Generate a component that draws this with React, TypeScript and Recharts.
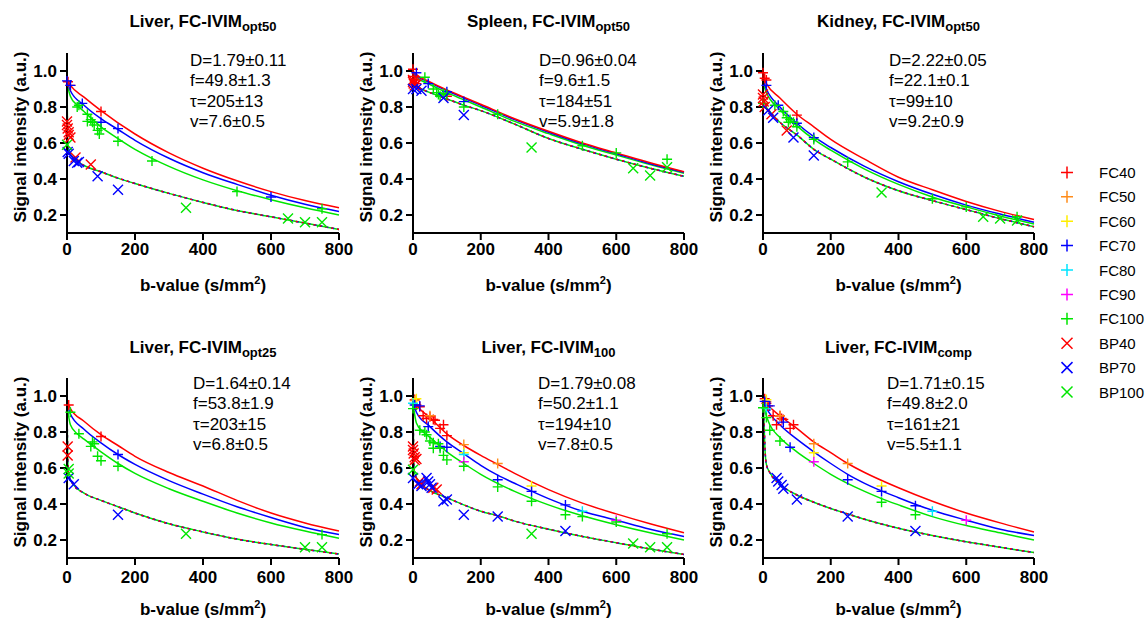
import React from 'react';
import { ComposedChart, Line, Scatter, XAxis, YAxis } from 'recharts';

type P = [number, number];
type SP = [string, number, number];

const FONT = '"Liberation Sans", Arial, Helvetica, sans-serif';

// ---------- axes / legend ----------
const B_TICKS = [0, 200, 400, 600, 800];
const SI_TICKS = [0.2, 0.4, 0.6, 0.8, 1.0];
const LEGEND_SERIES = ['FC40', 'FC50', 'FC60', 'FC70', 'FC80', 'FC90', 'FC100', 'BP40', 'BP70', 'BP100'];
const SERIES_COLORS: Record<string, string> = {
  FC40: '#ff0000', FC50: '#ff8c1a', FC60: '#ffee00', FC70: '#0000ff', FC80: '#00e5ff',
  FC90: '#ff00ff', FC100: '#00e600', BP40: '#ff0000', BP70: '#0000ff', BP100: '#00e600',
};

// ---------- panel texts ----------
const TITLES = ['Liver, FC-IVIM', 'Spleen, FC-IVIM', 'Kidney, FC-IVIM', 'Liver, FC-IVIM', 'Liver, FC-IVIM', 'Liver, FC-IVIM'];
const TITLE_SUBS = ['opt50', 'opt50', 'opt50', 'opt25', '100', 'comp'];
const STATS = [
  ['D=1.79±0.11', 'f=49.8±1.3', 'τ=205±13', 'v=7.6±0.5'],
  ['D=0.96±0.04', 'f=9.6±1.5', 'τ=184±51', 'v=5.9±1.8'],
  ['D=2.22±0.05', 'f=22.1±0.1', 'τ=99±10', 'v=9.2±0.9'],
  ['D=1.64±0.14', 'f=53.8±1.9', 'τ=203±15', 'v=6.8±0.5'],
  ['D=1.79±0.08', 'f=50.2±1.1', 'τ=194±10', 'v=7.8±0.5'],
  ['D=1.71±0.15', 'f=49.8±2.0', 'τ=161±21', 'v=5.5±1.1'],
];
const X_TITLE = 'b-value (s/mm';
const Y_TITLE = 'Signal intensity (a.u.)';

// ---------- fitted curves ----------
const FIT1_FC40: P[] = [[0, 0.95], [10, 0.92], [50, 0.855], [100, 0.78], [200, 0.65], [300, 0.545], [400, 0.46], [500, 0.39], [600, 0.33], [700, 0.28], [800, 0.24]];
const FIT1_FC70: P[] = [[0, 0.945], [10, 0.89], [50, 0.81], [100, 0.735], [150, 0.675], [200, 0.615], [300, 0.515], [400, 0.435], [500, 0.37], [600, 0.31], [700, 0.26], [800, 0.22]];
const FIT1_FC100: P[] = [[0, 0.93], [10, 0.86], [30, 0.81], [50, 0.775], [100, 0.69], [150, 0.625], [200, 0.565], [250, 0.515], [300, 0.47], [400, 0.395], [500, 0.335], [600, 0.285], [700, 0.24], [800, 0.2]];
const FIT1_BP: P[] = [[0, 0.95], [2, 0.6], [5, 0.56], [10, 0.54], [20, 0.515], [50, 0.475], [100, 0.44], [150, 0.405], [200, 0.375], [300, 0.32], [400, 0.27], [500, 0.225], [600, 0.19], [700, 0.155], [800, 0.12]];

const FIT2_FC40: P[] = [[0, 1.0], [10, 0.98], [50, 0.94], [100, 0.895], [150, 0.855], [200, 0.815], [300, 0.735], [400, 0.665], [500, 0.6], [600, 0.545], [700, 0.49], [800, 0.44]];
const FIT2_FC70: P[] = [[0, 0.995], [10, 0.975], [50, 0.935], [100, 0.89], [150, 0.85], [200, 0.81], [300, 0.73], [400, 0.66], [500, 0.595], [600, 0.54], [700, 0.485], [800, 0.437]];
const FIT2_FC100: P[] = [[0, 0.985], [10, 0.965], [50, 0.925], [100, 0.88], [150, 0.84], [200, 0.8], [300, 0.72], [400, 0.652], [500, 0.588], [600, 0.533], [700, 0.48], [800, 0.432]];
const FIT2_BP: P[] = [[0, 0.96], [5, 0.925], [20, 0.905], [50, 0.88], [100, 0.845], [150, 0.81], [200, 0.78], [300, 0.705], [400, 0.625], [500, 0.565], [600, 0.51], [700, 0.46], [800, 0.415]];

const FIT3_FC40: P[] = [[0, 0.97], [10, 0.93], [50, 0.85], [100, 0.76], [150, 0.69], [200, 0.62], [300, 0.51], [400, 0.41], [500, 0.34], [600, 0.275], [700, 0.22], [800, 0.175]];
const FIT3_FC70: P[] = [[0, 0.95], [10, 0.9], [50, 0.8], [100, 0.71], [150, 0.635], [200, 0.575], [300, 0.47], [400, 0.385], [500, 0.315], [600, 0.255], [700, 0.205], [800, 0.16]];
const FIT3_FC100: P[] = [[0, 0.93], [10, 0.88], [50, 0.785], [100, 0.695], [150, 0.62], [200, 0.56], [300, 0.455], [400, 0.37], [500, 0.3], [600, 0.245], [700, 0.195], [800, 0.15]];
const FIT3_BP: P[] = [[0, 0.88], [5, 0.82], [20, 0.775], [50, 0.715], [100, 0.645], [150, 0.565], [200, 0.51], [300, 0.41], [400, 0.335], [500, 0.28], [600, 0.23], [700, 0.18], [800, 0.135]];

const FIT4_FC40: P[] = [[0, 0.97], [10, 0.93], [50, 0.86], [100, 0.785], [150, 0.725], [200, 0.665], [300, 0.575], [400, 0.5], [500, 0.42], [600, 0.35], [700, 0.295], [800, 0.25]];
const FIT4_FC70: P[] = [[0, 0.96], [10, 0.9], [50, 0.815], [100, 0.74], [150, 0.675], [200, 0.62], [300, 0.53], [400, 0.455], [500, 0.385], [600, 0.325], [700, 0.27], [800, 0.23]];
const FIT4_FC100: P[] = [[0, 0.95], [10, 0.84], [30, 0.79], [50, 0.76], [100, 0.69], [150, 0.625], [200, 0.57], [300, 0.485], [400, 0.415], [500, 0.35], [600, 0.295], [700, 0.25], [800, 0.21]];
const FIT4_BP: P[] = [[0, 0.95], [3, 0.6], [5, 0.56], [20, 0.505], [50, 0.46], [100, 0.42], [150, 0.385], [200, 0.35], [300, 0.29], [400, 0.245], [500, 0.205], [600, 0.175], [700, 0.148], [800, 0.122]];

const FIT5_FC40: P[] = [[0, 0.98], [10, 0.95], [50, 0.88], [100, 0.79], [150, 0.725], [200, 0.67], [250, 0.62], [300, 0.57], [400, 0.48], [500, 0.405], [600, 0.345], [700, 0.29], [800, 0.24]];
const FIT5_FC70: P[] = [[0, 0.97], [10, 0.91], [50, 0.83], [100, 0.745], [150, 0.68], [200, 0.615], [250, 0.56], [300, 0.515], [400, 0.43], [500, 0.36], [600, 0.31], [700, 0.26], [800, 0.22]];
const FIT5_FC100: P[] = [[0, 0.96], [10, 0.85], [30, 0.8], [50, 0.77], [100, 0.69], [150, 0.625], [200, 0.565], [300, 0.47], [400, 0.395], [500, 0.335], [600, 0.285], [700, 0.24], [800, 0.2]];
const FIT5_BP: P[] = [[0, 0.96], [3, 0.6], [5, 0.57], [20, 0.52], [50, 0.475], [100, 0.435], [150, 0.395], [200, 0.36], [250, 0.335], [300, 0.305], [400, 0.26], [500, 0.22], [600, 0.185], [700, 0.15], [800, 0.12]];

const FIT6_FC40: P[] = [[0, 0.99], [10, 0.96], [50, 0.89], [100, 0.82], [150, 0.745], [200, 0.685], [250, 0.625], [300, 0.575], [400, 0.49], [500, 0.415], [600, 0.35], [700, 0.295], [800, 0.245]];
const FIT6_FC70: P[] = [[0, 0.98], [10, 0.935], [50, 0.84], [100, 0.76], [150, 0.69], [200, 0.625], [250, 0.565], [300, 0.515], [400, 0.435], [500, 0.365], [600, 0.31], [700, 0.26], [800, 0.225]];
const FIT6_FC100: P[] = [[0, 0.96], [10, 0.89], [20, 0.84], [50, 0.77], [100, 0.69], [150, 0.625], [200, 0.565], [300, 0.47], [350, 0.43], [400, 0.395], [500, 0.33], [600, 0.28], [700, 0.24], [800, 0.2]];
const FIT6_BP: P[] = [[0, 0.98], [3, 0.85], [6, 0.7], [10, 0.62], [20, 0.575], [50, 0.51], [100, 0.45], [150, 0.41], [200, 0.375], [250, 0.345], [300, 0.315], [400, 0.265], [500, 0.225], [600, 0.19], [700, 0.16], [800, 0.13]];

// ---------- measured points (series, b, signal) ----------
const PTS1: SP[] = [
  ['FC40', 3, 0.94], ['FC40', 10, 0.92], ['FC40', 100, 0.775],
  ['FC70', 0, 0.945], ['FC70', 10, 0.92], ['FC70', 45, 0.82], ['FC70', 100, 0.715], ['FC70', 150, 0.68], ['FC70', 600, 0.3],
  ['FC100', 30, 0.8], ['FC100', 35, 0.81], ['FC100', 60, 0.76], ['FC100', 60, 0.72], ['FC100', 70, 0.73], ['FC100', 75, 0.715], ['FC100', 80, 0.7], ['FC100', 90, 0.67], ['FC100', 95, 0.65], ['FC100', 100, 0.68], ['FC100', 150, 0.61], ['FC100', 250, 0.5], ['FC100', 500, 0.33], ['FC100', 750, 0.235],
  ['BP40', 0, 0.72], ['BP40', 0, 0.7], ['BP40', 2, 0.68], ['BP40', 5, 0.66], ['BP40', 5, 0.645], ['BP40', 10, 0.63], ['BP40', 25, 0.52], ['BP40', 70, 0.48],
  ['BP70', 2, 0.55], ['BP70', 5, 0.54], ['BP70', 20, 0.5], ['BP70', 30, 0.49], ['BP70', 35, 0.495], ['BP70', 90, 0.415], ['BP70', 150, 0.34],
  ['BP100', 0, 0.59], ['BP100', 350, 0.24], ['BP100', 650, 0.18], ['BP100', 700, 0.16], ['BP100', 750, 0.16],
];
const PTS2: SP[] = [
  ['FC40', 0, 1.01], ['FC40', 0, 0.97], ['FC40', 5, 0.95], ['FC40', 10, 0.93], ['FC40', 100, 0.86],
  ['FC70', 10, 0.99], ['FC70', 45, 0.93], ['FC70', 100, 0.885], ['FC70', 150, 0.83],
  ['FC100', 35, 0.965], ['FC100', 60, 0.9], ['FC100', 70, 0.88], ['FC100', 75, 0.87], ['FC100', 80, 0.86], ['FC100', 90, 0.875], ['FC100', 100, 0.87], ['FC100', 150, 0.8], ['FC100', 250, 0.76], ['FC100', 500, 0.585], ['FC100', 600, 0.545], ['FC100', 750, 0.51],
  ['BP40', 0, 0.95], ['BP40', 0, 0.94], ['BP40', 2, 0.93], ['BP40', 5, 0.92], ['BP40', 10, 0.925],
  ['BP70', 0, 0.9], ['BP70', 10, 0.9], ['BP70', 25, 0.89], ['BP70', 90, 0.85], ['BP70', 150, 0.755],
  ['BP100', 350, 0.575], ['BP100', 650, 0.46], ['BP100', 700, 0.42], ['BP100', 750, 0.465],
];
const PTS3: SP[] = [
  ['FC40', 0, 0.99], ['FC40', 5, 0.96], ['FC40', 10, 0.95], ['FC40', 100, 0.755],
  ['FC70', 10, 0.92], ['FC70', 45, 0.81], ['FC70', 100, 0.71], ['FC70', 150, 0.63],
  ['FC100', 0, 0.82], ['FC100', 35, 0.81], ['FC100', 60, 0.775], ['FC100', 70, 0.74], ['FC100', 75, 0.715], ['FC100', 80, 0.73], ['FC100', 90, 0.715], ['FC100', 100, 0.69], ['FC100', 150, 0.62], ['FC100', 250, 0.495], ['FC100', 500, 0.29], ['FC100', 600, 0.245], ['FC100', 750, 0.19],
  ['BP40', 0, 0.87], ['BP40', 0, 0.85], ['BP40', 2, 0.83], ['BP40', 5, 0.8], ['BP40', 25, 0.76], ['BP40', 70, 0.67],
  ['BP70', 15, 0.78], ['BP70', 30, 0.74], ['BP70', 90, 0.63], ['BP70', 150, 0.53],
  ['BP100', 350, 0.325], ['BP100', 650, 0.19], ['BP100', 700, 0.18], ['BP100', 750, 0.17],
];
const PTS4: SP[] = [
  ['FC40', 5, 0.95], ['FC40', 100, 0.775],
  ['FC70', 150, 0.675],
  ['FC100', 10, 0.91], ['FC100', 35, 0.79], ['FC100', 70, 0.72], ['FC100', 75, 0.745], ['FC100', 80, 0.735], ['FC100', 90, 0.665], ['FC100', 100, 0.64], ['FC100', 150, 0.61], ['FC100', 750, 0.23],
  ['BP40', 2, 0.72], ['BP40', 2, 0.67],
  ['BP70', 5, 0.545], ['BP70', 20, 0.51], ['BP70', 150, 0.34],
  ['BP100', 5, 0.595], ['BP100', 5, 0.57], ['BP100', 350, 0.235], ['BP100', 700, 0.16], ['BP100', 750, 0.16],
];
const PTS5: SP[] = [
  ['FC40', 5, 0.98], ['FC40', 10, 0.95], ['FC40', 20, 0.94], ['FC40', 30, 0.89], ['FC40', 40, 0.875], ['FC40', 50, 0.885], ['FC40', 60, 0.87], ['FC40', 65, 0.865], ['FC40', 80, 0.82], ['FC40', 90, 0.84], ['FC40', 100, 0.78],
  ['FC50', 5, 0.975], ['FC50', 50, 0.89], ['FC50', 150, 0.73], ['FC50', 250, 0.625],
  ['FC60', 10, 0.985], ['FC60', 150, 0.685], ['FC60', 350, 0.5],
  ['FC70', 5, 0.95], ['FC70', 20, 0.945], ['FC70', 45, 0.83], ['FC70', 80, 0.72], ['FC70', 100, 0.715], ['FC70', 250, 0.535], ['FC70', 350, 0.47], ['FC70', 450, 0.395],
  ['FC80', 0, 0.96], ['FC80', 150, 0.675], ['FC80', 500, 0.36],
  ['FC90', 150, 0.635], ['FC90', 600, 0.31],
  ['FC100', 0, 0.93], ['FC100', 20, 0.81], ['FC100', 35, 0.8], ['FC100', 40, 0.785], ['FC100', 50, 0.75], ['FC100', 60, 0.74], ['FC100', 60, 0.71], ['FC100', 75, 0.735], ['FC100', 80, 0.71], ['FC100', 90, 0.67], ['FC100', 100, 0.645], ['FC100', 150, 0.61], ['FC100', 250, 0.495], ['FC100', 350, 0.415], ['FC100', 450, 0.34], ['FC100', 500, 0.33], ['FC100', 600, 0.3], ['FC100', 750, 0.235],
  ['BP40', 0, 0.72], ['BP40', 0, 0.7], ['BP40', 2, 0.68], ['BP40', 5, 0.66], ['BP40', 5, 0.645], ['BP40', 10, 0.65], ['BP40', 20, 0.525], ['BP40', 25, 0.51], ['BP40', 60, 0.49], ['BP40', 70, 0.48],
  ['BP70', 0, 0.545], ['BP70', 15, 0.51], ['BP70', 25, 0.5], ['BP70', 40, 0.545], ['BP70', 45, 0.525], ['BP70', 50, 0.51], ['BP70', 55, 0.49], ['BP70', 90, 0.415], ['BP70', 100, 0.425], ['BP70', 150, 0.34], ['BP70', 250, 0.33], ['BP70', 450, 0.25],
  ['BP100', 0, 0.59], ['BP100', 350, 0.235], ['BP100', 650, 0.18], ['BP100', 700, 0.16], ['BP100', 750, 0.16],
];
const PTS6: SP[] = [
  ['FC40', 5, 0.985], ['FC40', 10, 0.96], ['FC40', 15, 0.945], ['FC40', 30, 0.89], ['FC40', 40, 0.84], ['FC40', 50, 0.89], ['FC40', 55, 0.875], ['FC40', 60, 0.87], ['FC40', 80, 0.82], ['FC40', 90, 0.84],
  ['FC50', 10, 0.97], ['FC50', 50, 0.89], ['FC50', 150, 0.735], ['FC50', 250, 0.625],
  ['FC60', 10, 0.98], ['FC60', 150, 0.685], ['FC60', 350, 0.5],
  ['FC70', 5, 0.97], ['FC70', 20, 0.945], ['FC70', 60, 0.855], ['FC70', 80, 0.715], ['FC70', 250, 0.535], ['FC70', 350, 0.47], ['FC70', 450, 0.39],
  ['FC80', 10, 0.93], ['FC80', 500, 0.36],
  ['FC90', 150, 0.635], ['FC90', 600, 0.31],
  ['FC100', 0, 0.935], ['FC100', 10, 0.88], ['FC100', 20, 0.81], ['FC100', 50, 0.75], ['FC100', 350, 0.41], ['FC100', 450, 0.34],
  ['BP70', 40, 0.545], ['BP70', 45, 0.525], ['BP70', 55, 0.505], ['BP70', 60, 0.485], ['BP70', 100, 0.425], ['BP70', 250, 0.33], ['BP70', 450, 0.25],
];

const FITS = [
  { FC40: FIT1_FC40, FC70: FIT1_FC70, FC100: FIT1_FC100, BP: FIT1_BP },
  { FC40: FIT2_FC40, FC70: FIT2_FC70, FC100: FIT2_FC100, BP: FIT2_BP },
  { FC40: FIT3_FC40, FC70: FIT3_FC70, FC100: FIT3_FC100, BP: FIT3_BP },
  { FC40: FIT4_FC40, FC70: FIT4_FC70, FC100: FIT4_FC100, BP: FIT4_BP },
  { FC40: FIT5_FC40, FC70: FIT5_FC70, FC100: FIT5_FC100, BP: FIT5_BP },
  { FC40: FIT6_FC40, FC70: FIT6_FC70, FC100: FIT6_FC100, BP: FIT6_BP },
];
const POINTS = [PTS1, PTS2, PTS3, PTS4, PTS5, PTS6];

// ---------- layout ----------
const PANELS = [
  { left: 0, top: 0, plotLeft: 67, plotRight: 339, statX: 190, row: 0 },
  { left: 346, top: 0, plotLeft: 413, plotRight: 684, statX: 539, row: 0 },
  { left: 696, top: 0, plotLeft: 763, plotRight: 1034, statX: 889, row: 0 },
  { left: 0, top: 325, plotLeft: 67, plotRight: 339, statX: 193, row: 1 },
  { left: 346, top: 325, plotLeft: 413, plotRight: 684, statX: 538, row: 1 },
  { left: 696, top: 325, plotLeft: 763, plotRight: 1034, statX: 887, row: 1 },
];
const ROWS = [
  { plotTop: 53, plotBottom: 233, titleY: 27, statY: 66, xTitleY: 291, tickMargin: 3 },
  { plotTop: 378, plotBottom: 558, titleY: 353, statY: 389, xTitleY: 615, tickMargin: 6 },
];
const CHART_W = 380;
const CHART_H = 300;

const toXY = (arr: P[]) => arr.map(([b, v]) => ({ b, v }));

const plusShape = (color: string, r = 5) => (props: any) => {
  const { cx, cy } = props;
  if (cx == null || cy == null) return <g />;
  return <path d={`M${cx - r},${cy}H${cx + r}M${cx},${cy - r}V${cy + r}`} stroke={color} strokeWidth={1.4} fill="none" />;
};
const crossShape = (color: string, r = 5) => (props: any) => {
  const { cx, cy } = props;
  if (cx == null || cy == null) return <g />;
  return <path d={`M${cx - r},${cy - r}L${cx + r},${cy + r}M${cx - r},${cy + r}L${cx + r},${cy - r}`} stroke={color} strokeWidth={1.4} fill="none" />;
};

const tickStyle = { fill: '#000', fontSize: 17, fontWeight: 'bold' as const, fontFamily: FONT };

function Panel({ idx }: { idx: number }) {
  const p = PANELS[idx];
  const row = ROWS[p.row];
  const fits = FITS[idx];
  const pts = POINTS[idx];
  const chartTop = p.top;
  const ml = p.plotLeft - p.left - 40;
  const mr = CHART_W - (p.plotRight - p.left);
  const mt = row.plotTop - chartTop;
  const mb = CHART_H - (row.plotBottom - chartTop) - 30;
  const seriesInPanel = LEGEND_SERIES.filter((s) => pts.some((q) => q[0] === s));
  return (
    <div style={{ position: 'absolute', left: p.left, top: chartTop, width: CHART_W, height: CHART_H }}>
      <ComposedChart width={CHART_W} height={CHART_H} margin={{ top: mt, right: mr, bottom: mb, left: ml }}>
        <XAxis
          type="number" dataKey="b" domain={[0, 800]} ticks={B_TICKS} height={30}
          tick={tickStyle} tickSize={7} tickMargin={row.tickMargin}
          axisLine={{ stroke: '#000', strokeWidth: 2 }} tickLine={{ stroke: '#000', strokeWidth: 2 }}
        />
        <YAxis
          type="number" dataKey="v" domain={[0.1, 1.1]} ticks={SI_TICKS} width={40}
          tickFormatter={(v: number) => v.toFixed(1)}
          tick={tickStyle} tickSize={7} tickMargin={3}
          axisLine={{ stroke: '#000', strokeWidth: 2 }} tickLine={{ stroke: '#000', strokeWidth: 2 }}
        />
        <Line data={toXY(fits.BP)} dataKey="v" type="monotone" stroke={SERIES_COLORS.BP100} strokeWidth={1.5} dot={false} activeDot={false} isAnimationActive={false} />
        <Line data={toXY(fits.BP)} dataKey="v" type="monotone" stroke={SERIES_COLORS.BP70} strokeWidth={1.5} strokeDasharray="3 3" dot={false} activeDot={false} isAnimationActive={false} />
        <Line data={toXY(fits.BP)} dataKey="v" type="monotone" stroke={SERIES_COLORS.BP40} strokeWidth={1.5} strokeDasharray="2 4" dot={false} activeDot={false} isAnimationActive={false} />
        <Line data={toXY(fits.FC100)} dataKey="v" type="monotone" stroke={SERIES_COLORS.FC100} strokeWidth={1.5} dot={false} activeDot={false} isAnimationActive={false} />
        <Line data={toXY(fits.FC70)} dataKey="v" type="monotone" stroke={SERIES_COLORS.FC70} strokeWidth={1.5} dot={false} activeDot={false} isAnimationActive={false} />
        <Line data={toXY(fits.FC40)} dataKey="v" type="monotone" stroke={SERIES_COLORS.FC40} strokeWidth={1.5} dot={false} activeDot={false} isAnimationActive={false} />
        {seriesInPanel.map((s) => (
          <Scatter
            key={s}
            name={s}
            data={pts.filter((q) => q[0] === s).map((q) => ({ b: q[1], v: q[2] }))}
            dataKey="v"
            isAnimationActive={false}
            shape={s.startsWith('FC') ? plusShape(SERIES_COLORS[s]) : crossShape(SERIES_COLORS[s])}
          />
        ))}
      </ComposedChart>
    </div>
  );
}

function Overlay() {
  return (
    <svg width={1148} height={619} style={{ position: 'absolute', left: 0, top: 0, pointerEvents: 'none' }} fontFamily={FONT}>
      {PANELS.map((p, i) => {
        const row = ROWS[p.row];
        const cx = (p.plotLeft + p.plotRight) / 2;
        const cy = (row.plotTop + row.plotBottom) / 2 - 6;
        return (
          <g key={i}>
            <text x={cx} y={row.titleY} textAnchor="middle" fontWeight="bold" fontSize={17} fill="#000">
              {TITLES[i]}
              <tspan dy={4} fontSize={13}>{TITLE_SUBS[i]}</tspan>
            </text>
            {STATS[i].map((s, j) => (
              <text key={j} x={p.statX} y={row.statY + j * 20.3} fontSize={17} fill="#000">{s}</text>
            ))}
            <text x={cx} y={row.xTitleY} textAnchor="middle" fontWeight="bold" fontSize={17} fill="#000">
              {X_TITLE}
              <tspan dy={-7} fontSize={11}>2</tspan>
              <tspan dy={7}>)</tspan>
            </text>
            <text transform={`translate(${p.plotLeft - 41},${cy}) rotate(-90)`} textAnchor="middle" fontWeight="bold" fontSize={17} fill="#000">
              {Y_TITLE}
            </text>
          </g>
        );
      })}
      {LEGEND_SERIES.map((s, i) => {
        const y = 172.4 + i * 24.4;
        const x = 1067;
        const c = SERIES_COLORS[s];
        return (
          <g key={s}>
            {s.startsWith('FC') ? (
              <path d={`M${x - 6},${y}H${x + 6}M${x},${y - 6}V${y + 6}`} stroke={c} strokeWidth={1.5} fill="none" />
            ) : (
              <path d={`M${x - 5.5},${y - 5.5}L${x + 5.5},${y + 5.5}M${x - 5.5},${y + 5.5}L${x + 5.5},${y - 5.5}`} stroke={c} strokeWidth={1.5} fill="none" />
            )}
            <text x={1099} y={y + 5.5} fontSize={15} fill="#000">{s}</text>
          </g>
        );
      })}
    </svg>
  );
}

export default function App() {
  return (
    <div style={{ position: 'fixed', left: 0, top: 0, width: 1148, height: 619, background: '#fff', overflow: 'hidden', fontFamily: FONT }}>
      {PANELS.map((_, i) => (
        <Panel key={i} idx={i} />
      ))}
      <Overlay />
    </div>
  );
}
